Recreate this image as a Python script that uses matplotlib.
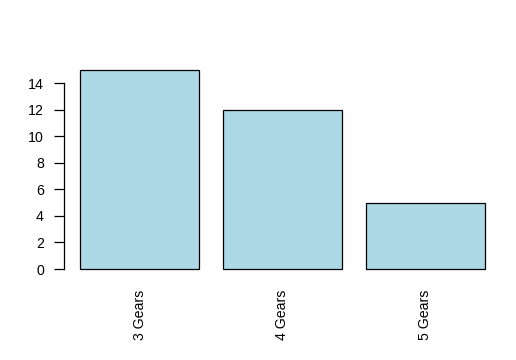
import matplotlib
matplotlib.use("Agg")
import matplotlib.pyplot as plt

# gear counts
categories = ["3 Gears", "4 Gears", "5 Gears"]
counts = [15, 12, 5]
y_ticks = [0, 2, 4, 6, 8, 10, 12, 14]

plt.rcParams["font.family"] = ["Liberation Sans", "DejaVu Sans"]

fig = plt.figure(figsize=(5.16, 3.6), dpi=100)
# axes placed to match the R-style plot region
ax = fig.add_axes([64 / 516, 1 - 277 / 360, (501 - 64) / 516, (277 - 62) / 360])

# R barplot layout: width 1, space 0.2
positions = [0.2 + 1.2 * i + 0.5 for i in range(len(counts))]
ax.bar(positions, counts, width=1.0, color="#ADD8E6", edgecolor="black", linewidth=0.9)

ax.set_xlim(0.064, 3.736)
ax.set_ylim(-0.6, 15.6)

for side in ["top", "right", "bottom"]:
    ax.spines[side].set_visible(False)
ax.spines["left"].set_bounds(0, 14)
ax.spines["left"].set_linewidth(0.9)

ax.set_yticks(y_ticks)
ax.set_yticklabels([str(t) for t in y_ticks])
ax.tick_params(axis="y", length=7, width=0.9, pad=7.5, labelsize=10.2)

ax.set_xticks(positions)
ax.set_xticklabels(categories, rotation=90)
ax.tick_params(axis="x", length=0, pad=9, labelsize=10.2)

fig.savefig("out.png", dpi=100)
